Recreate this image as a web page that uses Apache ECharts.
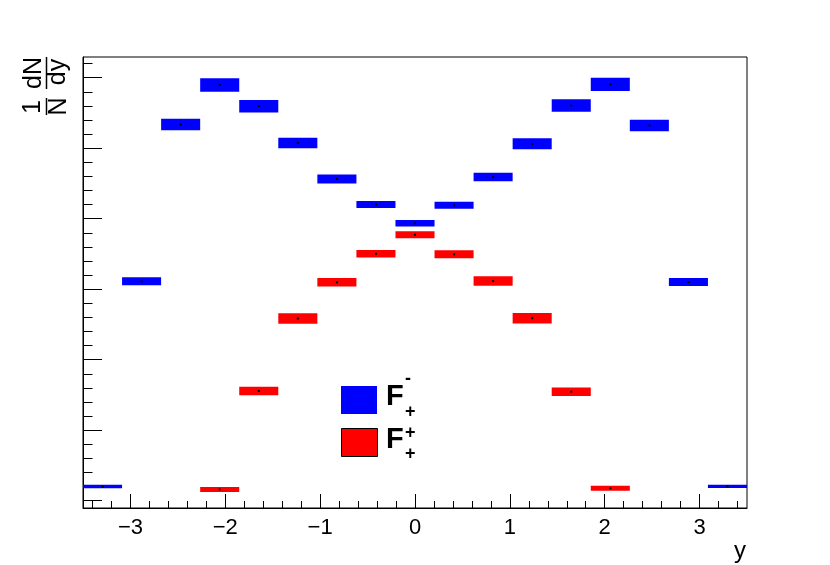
<!DOCTYPE html>
<html>
<head>
<meta charset="utf-8">
<script src="https://cdn.jsdelivr.net/npm/echarts@6.0.0/dist/echarts.min.js"></script>
<style>
  html, body { margin: 0; padding: 0; background: #fff; }
  #chart { width: 830px; height: 565px; }
</style>
</head>
<body>
<div id="chart"></div>
<script>
// bin centres of the y histogram (17 bins from -3.5 to 3.5)
var binCenters = [-3.2941, -2.8824, -2.4706, -2.0588, -1.6471, -1.2353, -0.8235, -0.4118, 0,
  0.4118, 0.8235, 1.2353, 1.6471, 2.0588, 2.4706, 2.8824, 3.2941]
var binWidth = 0.4118

// F-_+ (blue) and F+_+ (red); values in units of one major y tick
var blueValues = [0.201, 3.112, 5.336, 5.896, 5.596, 5.074, 4.563, 4.201, 3.935,
  4.191, 4.591, 5.062, 5.606, 5.906, 5.322, 3.102, 0.204]
var blueErrors = [0.024, 0.057, 0.082, 0.095, 0.088, 0.075, 0.064, 0.050, 0.047,
  0.050, 0.061, 0.078, 0.088, 0.095, 0.082, 0.057, 0.024]
var redValues = [null, null, null, 0.159, 1.556, 2.584, 3.098, 3.502, 3.772,
  3.495, 3.116, 2.589, 1.546, 0.177, null, null, null]
var redErrors = [null, null, null, 0.035, 0.061, 0.074, 0.061, 0.054, 0.050,
  0.057, 0.067, 0.074, 0.061, 0.035, null, null, null]

var xMajorTicks = [-3, -2, -1, 0, 1, 2, 3]
var xMinorTicks = [-3.4, -3.2, -2.8, -2.6, -2.4, -2.2, -1.8, -1.6, -1.4, -1.2, -0.8, -0.6, -0.4, -0.2,
  0.2, 0.4, 0.6, 0.8, 1.2, 1.4, 1.6, 1.8, 2.2, 2.4, 2.6, 2.8, 3.2, 3.4]
var yMajorTicks = [0, 1, 2, 3, 4, 5, 6]
var yMinorTicks = []
yMajorTicks.forEach(function (v) {
  [0.2, 0.4, 0.6, 0.8].forEach(function (d) {
    if (v + d < 6.29) yMinorTicks.push(+(v + d).toFixed(1))
  })
})

var font = '"Liberation Sans", Arial, Helvetica, sans-serif'

function toPoints(values, errors) {
  var out = []
  binCenters.forEach(function (x, i) {
    if (values[i] != null) out.push([x, values[i], errors[i]])
  })
  return out
}

function boxItem(params, api) {
  var x = api.value(0)
  var y = api.value(1)
  var e = api.value(2)
  var p0 = api.coord([x - binWidth / 2, y + e])
  var p1 = api.coord([x + binWidth / 2, y - e])
  var c = api.coord([x, y])
  return {
    type: 'group',
    children: [{
      type: 'rect',
      shape: { x: p0[0], y: p0[1], width: p1[0] - p0[0], height: p1[1] - p0[1] },
      style: { fill: api.visual('color') }
    }, {
      type: 'rect',
      shape: { x: c[0] - 1, y: c[1] - 1, width: 2, height: 2 },
      style: { fill: '#000' }
    }]
  }
}

function minus(v) {
  return v < 0 ? '\u2212' + Math.abs(v) : String(v)
}

var chart = echarts.init(document.getElementById('chart'))
chart.setOption({
  animation: false,
  backgroundColor: '#fff',
  textStyle: { fontFamily: font },
  grid: {
    left: 83,
    top: 57,
    width: 664,
    height: 451,
    containLabel: false,
    outerBoundsMode: 'none',
    show: true,
    borderColor: '#000',
    borderWidth: 1
  },
  xAxis: [{
    type: 'value',
    min: -3.5,
    max: 3.5,
    position: 'bottom',
    axisLine: { show: true, onZero: false, lineStyle: { color: '#000', width: 1 } },
    axisTick: { show: true, inside: true, length: 14, customValues: xMajorTicks, lineStyle: { color: '#000' } },
    axisLabel: { customValues: xMajorTicks, formatter: minus, fontSize: 22, color: '#000', margin: 9, fontFamily: font },
    splitLine: { show: false }
  }, {
    type: 'value',
    min: -3.5,
    max: 3.5,
    position: 'bottom',
    axisLine: { show: false, onZero: false },
    axisTick: { show: true, inside: true, length: 7, customValues: xMinorTicks, lineStyle: { color: '#000' } },
    axisLabel: { show: false },
    splitLine: { show: false }
  }],
  yAxis: [{
    type: 'value',
    min: -0.1035,
    max: 6.2936,
    position: 'left',
    axisLine: { show: true, onZero: false, lineStyle: { color: '#000', width: 1 } },
    axisTick: { show: true, inside: true, length: 19, customValues: yMajorTicks, lineStyle: { color: '#000' } },
    axisLabel: { show: false },
    splitLine: { show: false }
  }, {
    type: 'value',
    min: -0.1035,
    max: 6.2936,
    position: 'left',
    axisLine: { show: false, onZero: false },
    axisTick: { show: true, inside: true, length: 9.5, customValues: yMinorTicks, lineStyle: { color: '#000' } },
    axisLabel: { show: false },
    splitLine: { show: false }
  }],
  series: [{
    name: 'F-+',
    type: 'custom',
    renderItem: boxItem,
    xAxisIndex: 0,
    yAxisIndex: 0,
    itemStyle: { color: '#0000ff' },
    data: toPoints(blueValues, blueErrors),
    clip: true
  }, {
    name: 'F++',
    type: 'custom',
    renderItem: boxItem,
    xAxisIndex: 0,
    yAxisIndex: 0,
    itemStyle: { color: '#ff0000' },
    data: toPoints(redValues, redErrors),
    clip: true
  }],
  graphic: [
    // y axis title: 1/N dN/dy, rotated
    { type: 'text', x: 33, y: 107, rotation: Math.PI / 2, style: { text: '1', font: '25px ' + font, fill: '#000', align: 'center', verticalAlign: 'middle' } },
    { type: 'text', x: 59, y: 106.5, rotation: Math.PI / 2, style: { text: 'N', font: '25px ' + font, fill: '#000', align: 'center', verticalAlign: 'middle' } },
    { type: 'line', shape: { x1: 46.5, y1: 98, x2: 46.5, y2: 115 }, style: { stroke: '#000', lineWidth: 1.5 } },
    { type: 'text', x: 34, y: 73, rotation: Math.PI / 2, style: { text: 'dN', font: '25px ' + font, fill: '#000', align: 'center', verticalAlign: 'middle' } },
    { type: 'text', x: 58.5, y: 72, rotation: Math.PI / 2, style: { text: 'dy', font: '25px ' + font, fill: '#000', align: 'center', verticalAlign: 'middle' } },
    { type: 'line', shape: { x1: 46.5, y1: 57, x2: 46.5, y2: 89 }, style: { stroke: '#000', lineWidth: 1.5 } },
    // x axis title
    { type: 'text', x: 746, y: 551, style: { text: 'y', font: '24px ' + font, fill: '#000', align: 'right', verticalAlign: 'middle' } },
    // legend
    { type: 'rect', shape: { x: 341, y: 386, width: 36, height: 28 }, style: { fill: '#0000ff' } },
    { type: 'text', x: 386, y: 397, style: { text: 'F', font: 'bold 29px ' + font, fill: '#000', align: 'left', verticalAlign: 'middle' } },
    { type: 'text', x: 405, y: 379, style: { text: '-', font: 'bold 18px ' + font, fill: '#000', align: 'left', verticalAlign: 'middle' } },
    { type: 'text', x: 405, y: 412, style: { text: '+', font: 'bold 18px ' + font, fill: '#000', align: 'left', verticalAlign: 'middle' } },
    { type: 'rect', shape: { x: 341.5, y: 428.5, width: 36, height: 28 }, style: { fill: '#ff0000', stroke: '#000', lineWidth: 1 } },
    { type: 'text', x: 386, y: 440, style: { text: 'F', font: 'bold 29px ' + font, fill: '#000', align: 'left', verticalAlign: 'middle' } },
    { type: 'text', x: 405, y: 433.5, style: { text: '+', font: 'bold 18px ' + font, fill: '#000', align: 'left', verticalAlign: 'middle' } },
    { type: 'text', x: 405, y: 454, style: { text: '+', font: 'bold 18px ' + font, fill: '#000', align: 'left', verticalAlign: 'middle' } }
  ]
})
</script>
</body>
</html>
